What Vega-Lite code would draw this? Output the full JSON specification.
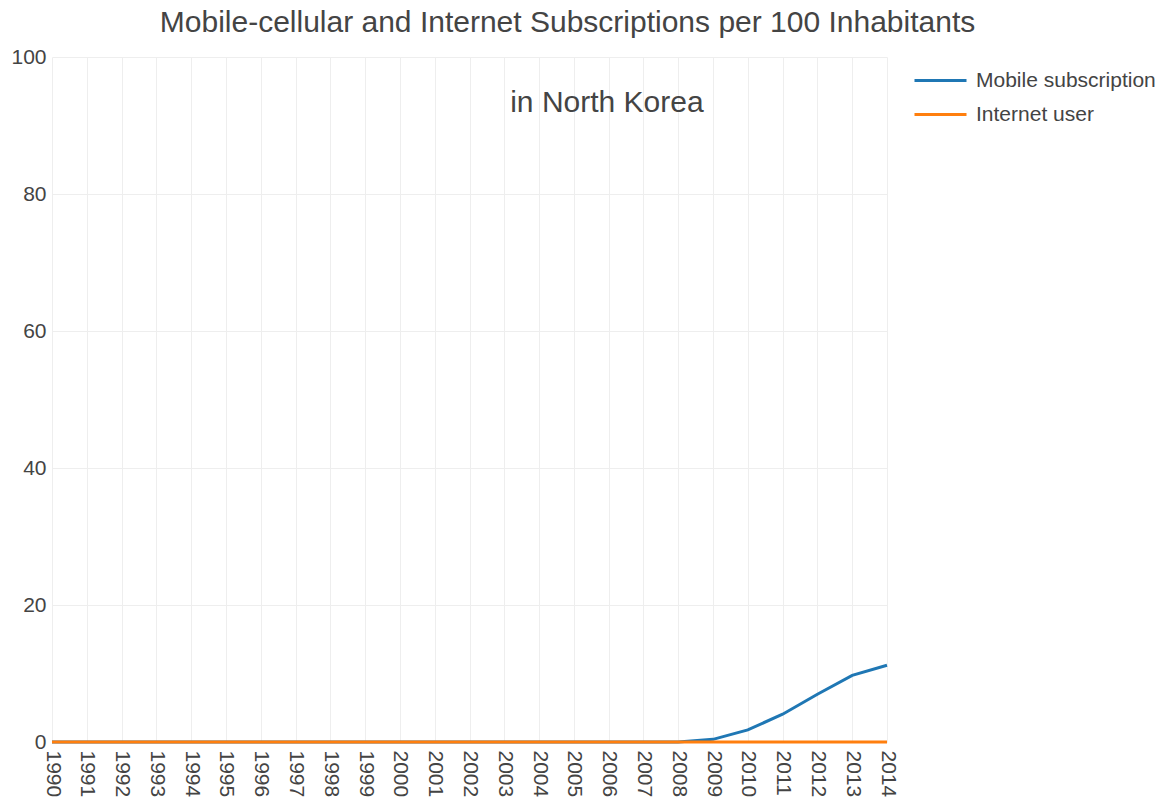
{
  "$schema": "https://vega.github.io/schema/vega-lite/v6.json",
  "width": 835,
  "height": 685,
  "autosize": {"type": "none"},
  "padding": {"left": 52, "top": 57, "right": 288, "bottom": 63},
  "background": "white",
  "config": {
    "font": "Liberation Sans",
    "view": {"stroke": null},
    "axis": {"labelColor": "#444", "labelFont": "Liberation Sans", "labelFontSize": 21, "gridColor": "#eeeeee", "gridWidth": 1, "domain": false, "ticks": false, "title": null}
  },
  "title": {"text": "Mobile-cellular and Internet Subscriptions per 100 Inhabitants", "anchor": "middle", "frame": "group", "dx": 98, "dy": 42, "fontSize": 30, "fontWeight": "normal", "color": "#444", "font": "Liberation Sans", "baseline": "alphabetic", "offset": 26},
  "datasets": {
    "series": [
      {"year": 1990, "series": "Mobile subscription", "value": 0},
      {"year": 1991, "series": "Mobile subscription", "value": 0},
      {"year": 1992, "series": "Mobile subscription", "value": 0},
      {"year": 1993, "series": "Mobile subscription", "value": 0},
      {"year": 1994, "series": "Mobile subscription", "value": 0},
      {"year": 1995, "series": "Mobile subscription", "value": 0},
      {"year": 1996, "series": "Mobile subscription", "value": 0},
      {"year": 1997, "series": "Mobile subscription", "value": 0},
      {"year": 1998, "series": "Mobile subscription", "value": 0},
      {"year": 1999, "series": "Mobile subscription", "value": 0},
      {"year": 2000, "series": "Mobile subscription", "value": 0},
      {"year": 2001, "series": "Mobile subscription", "value": 0},
      {"year": 2002, "series": "Mobile subscription", "value": 0.01},
      {"year": 2003, "series": "Mobile subscription", "value": 0.01},
      {"year": 2004, "series": "Mobile subscription", "value": 0},
      {"year": 2005, "series": "Mobile subscription", "value": 0},
      {"year": 2006, "series": "Mobile subscription", "value": 0},
      {"year": 2007, "series": "Mobile subscription", "value": 0},
      {"year": 2008, "series": "Mobile subscription", "value": 0.01},
      {"year": 2009, "series": "Mobile subscription", "value": 0.39},
      {"year": 2010, "series": "Mobile subscription", "value": 1.77},
      {"year": 2011, "series": "Mobile subscription", "value": 4.06},
      {"year": 2012, "series": "Mobile subscription", "value": 6.97},
      {"year": 2013, "series": "Mobile subscription", "value": 9.72},
      {"year": 2014, "series": "Mobile subscription", "value": 11.2},
      {"year": 1990, "series": "Internet user", "value": 0},
      {"year": 1991, "series": "Internet user", "value": 0},
      {"year": 1992, "series": "Internet user", "value": 0},
      {"year": 1993, "series": "Internet user", "value": 0},
      {"year": 1994, "series": "Internet user", "value": 0},
      {"year": 1995, "series": "Internet user", "value": 0},
      {"year": 1996, "series": "Internet user", "value": 0},
      {"year": 1997, "series": "Internet user", "value": 0},
      {"year": 1998, "series": "Internet user", "value": 0},
      {"year": 1999, "series": "Internet user", "value": 0},
      {"year": 2000, "series": "Internet user", "value": 0},
      {"year": 2001, "series": "Internet user", "value": 0},
      {"year": 2002, "series": "Internet user", "value": 0},
      {"year": 2003, "series": "Internet user", "value": 0},
      {"year": 2004, "series": "Internet user", "value": 0},
      {"year": 2005, "series": "Internet user", "value": 0},
      {"year": 2006, "series": "Internet user", "value": 0},
      {"year": 2007, "series": "Internet user", "value": 0},
      {"year": 2008, "series": "Internet user", "value": 0},
      {"year": 2009, "series": "Internet user", "value": 0},
      {"year": 2010, "series": "Internet user", "value": 0},
      {"year": 2011, "series": "Internet user", "value": 0},
      {"year": 2012, "series": "Internet user", "value": 0},
      {"year": 2013, "series": "Internet user", "value": 0},
      {"year": 2014, "series": "Internet user", "value": 0}
    ],
    "note": [{"label": "in North Korea", "year": 2005.95, "value": 93.3}]
  },
  "layer": [
    {
      "data": {"name": "series"},
      "transform": [{"filter": "datum.series === 'Mobile subscription'"}],
      "mark": {"type": "line", "strokeWidth": 3},
      "encoding": {
        "x": {"field": "year", "type": "quantitative", "scale": {"domain": [1990, 2014], "nice": false, "zero": false},
              "axis": {"values": [1990,1991,1992,1993,1994,1995,1996,1997,1998,1999,2000,2001,2002,2003,2004,2005,2006,2007,2008,2009,2010,2011,2012,2013,2014], "tickCount": 30, "format": "d", "labelAngle": 90, "labelAlign": "left", "labelBaseline": "middle", "labelPadding": 8, "labelOverlap": false, "labelFlush": false}},
        "y": {"field": "value", "type": "quantitative", "scale": {"domain": [0, 100], "nice": false},
              "axis": {"values": [0, 20, 40, 60, 80, 100], "labelPadding": 6, "labelFlush": false}},
        "color": {"field": "series", "type": "nominal",
                  "scale": {"domain": ["Mobile subscription", "Internet user"], "range": ["#1f77b4", "#ff7f0e"]},
                  "legend": {"title": null, "orient": "none", "legendX": 874, "legendY": 9, "symbolType": "M-2,0H2", "symbolSize": 676, "symbolStrokeWidth": 3, "labelFontSize": 21, "labelColor": "#444", "labelFont": "Liberation Sans", "labelOffset": 21, "labelLimit": 300, "rowPadding": 9}}
      }
    },
    {
      "data": {"name": "series"},
      "transform": [{"filter": "datum.series === 'Internet user'"}],
      "mark": {"type": "line", "strokeWidth": 3},
      "encoding": {
        "x": {"field": "year", "type": "quantitative"},
        "y": {"field": "value", "type": "quantitative"},
        "color": {"field": "series", "type": "nominal"}
      }
    },
    {
      "data": {"name": "note"},
      "mark": {"type": "text", "fontSize": 30, "color": "#444", "font": "Liberation Sans", "align": "center", "baseline": "middle"},
      "encoding": {
        "x": {"field": "year", "type": "quantitative"},
        "y": {"field": "value", "type": "quantitative"},
        "text": {"field": "label"}
      }
    }
  ]
}
